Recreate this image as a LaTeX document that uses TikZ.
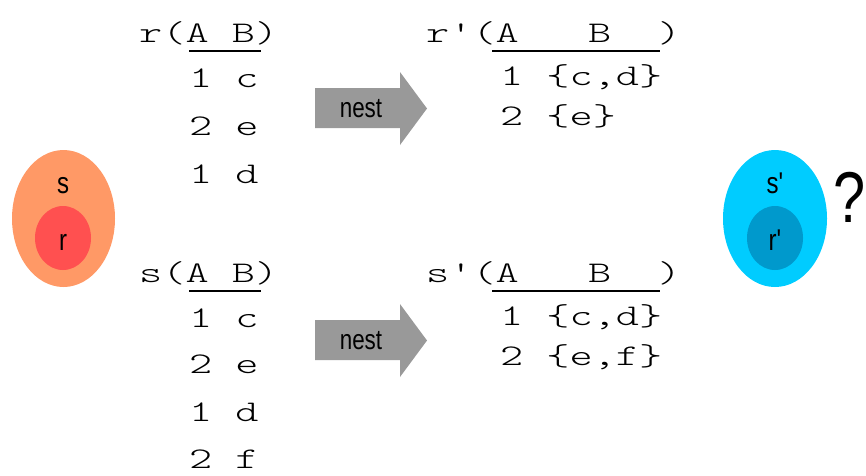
\documentclass[tikz,border=0pt]{standalone}
\usepackage{fontspec}
\usetikzlibrary{shapes.geometric}
\newfontfamily\tabfont[FakeStretch=1.47,Ligatures=TeXOff]{Latin Modern Mono Light}
\newfontfamily\labfont[FakeStretch=0.8,Ligatures=TeXOff]{Liberation Sans}
\definecolor{outerS}{HTML}{FF9966}
\definecolor{innerR}{HTML}{FF5050}
\definecolor{outerSp}{HTML}{00CCFF}
\definecolor{innerRp}{HTML}{0099CC}
\definecolor{arrowgray}{HTML}{999999}
\begin{document}
\begin{tikzpicture}[x=1pt,y=-1pt,
  mono/.style={anchor=base west, inner sep=0pt, font={\tabfont\fontsize{30}{36}\selectfont}},
  rule/.style={line width=2.2pt},
  nestarrow/.style={fill=arrowgray},
  tag/.style={anchor=base, inner sep=0pt, font={\labfont\fontsize{28}{34}\selectfont}},
  setlabel/.style={anchor=base, inner sep=0pt, font={\labfont\fontsize{30}{36}\selectfont}},
  blob/.style={ellipse, inner sep=0pt}
]
\useasboundingbox (0,0) rectangle (866,475);

% relation r and its nested form r'
\node[mono] (rh) at (139,42) {r(A~B)};
\draw[rule] (189,51) -- (261,51);
\node[mono] (r1) at (189,87) {1~c};
\node[mono] (r2) at (189,135) {2~e};
\node[mono] (r3) at (189,183) {1~d};

\node[mono] (rph) at (426,42) {r\char"27(A~~~B~~)};
\draw[rule] (492,51) -- (660,51);
\node[mono] (rp1) at (500,85) {1~{\char"7B}c,d{\char"7D}};
\node[mono] (rp2) at (500,125) {2~{\char"7B}e{\char"7D}};

% relation s and its nested form s'
\node[mono] (sh) at (139,282) {s(A~B)};
\draw[rule] (189,291) -- (261,291);
\node[mono] (s1) at (189,327) {1~c};
\node[mono] (s2) at (189,373) {2~e};
\node[mono] (s3) at (189,421) {1~d};
\node[mono] (s4) at (189,468) {2~f};

\node[mono] (sph) at (426,282) {s\char"27(A~~~B~~)};
\draw[rule] (492,291) -- (660,291);
\node[mono] (sp1) at (500,325) {1~{\char"7B}c,d{\char"7D}};
\node[mono] (sp2) at (500,365) {2~{\char"7B}e,f{\char"7D}};

% nest operators
\fill[nestarrow] (315,88) -- (400,88) -- (400,72) -- (427,108.5) -- (400,145) -- (400,128) -- (315,128) -- cycle;
\node[tag] (nest1) at (361,117) {nest};
\fill[nestarrow] (315,320) -- (400,320) -- (400,304) -- (427,340.5) -- (400,377) -- (400,360) -- (315,360) -- cycle;
\node[tag] (nest2) at (361,349) {nest};

% containment r in s
\node[blob, fill=outerS, minimum width=103pt, minimum height=137pt] (S) at (63.5,218.5) {};
\node[blob, fill=innerR, minimum width=56pt, minimum height=64pt] (R) at (63,238) {};
\node[setlabel] (Slab) at (63,193) {s};
\node[setlabel] (Rlab) at (63,250) {r};

% containment r' in s'
\node[blob, fill=outerSp, minimum width=104pt, minimum height=137pt] (Sp) at (775,218.5) {};
\node[blob, fill=innerRp, minimum width=56pt, minimum height=64pt] (Rp) at (775,238) {};
\node[setlabel] (Splab) at (775,193) {s'};
\node[setlabel] (Rplab) at (775,250) {r'};
\node[anchor=base west, inner sep=0pt, font={\labfont\fontsize{72}{78}\selectfont}] (q) at (833,222) {?};
\end{tikzpicture}
\end{document}
